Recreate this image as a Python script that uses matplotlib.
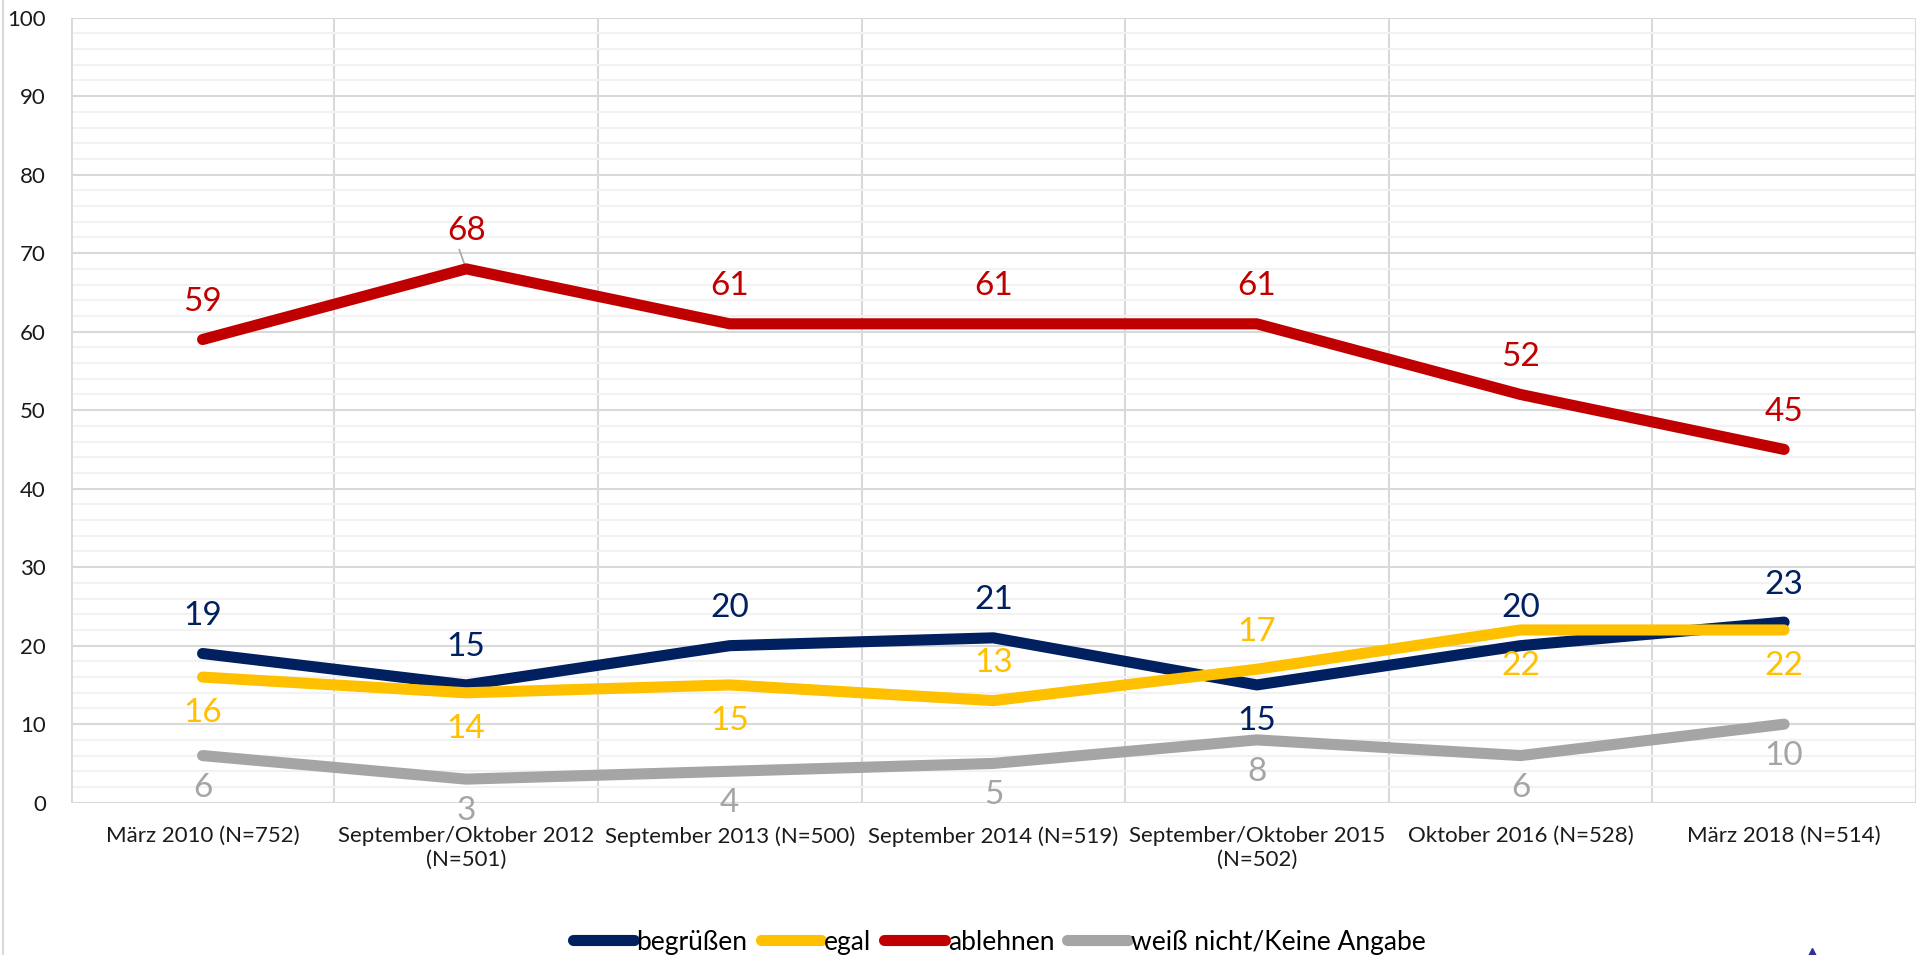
import matplotlib
matplotlib.use('Agg')
import matplotlib.pyplot as plt
from matplotlib.lines import Line2D
from matplotlib.ticker import MultipleLocator
import numpy as np

plt.rcParams['font.family'] = ['Lato', 'DejaVu Sans']

categories = [
    'März 2010 (N=752)',
    'September/Oktober 2012\n(N=501)',
    'September 2013 (N=500)',
    'September 2014 (N=519)',
    'September/Oktober 2015\n(N=502)',
    'Oktober 2016 (N=528)',
    'März 2018 (N=514)',
]
series_names = ['begrüßen', 'egal', 'ablehnen', 'weiß nicht/Keine Angabe']
begruessen = [19, 15, 20, 21, 15, 20, 23]
egal = [16, 14, 15, 13, 17, 22, 22]
ablehnen = [59, 68, 61, 61, 61, 52, 45]
weiss_nicht = [6, 3, 4, 5, 8, 6, 10]

colors = ['#002060', '#FFC000', '#C00000', '#A5A5A5']
# label side per point: 1 above, -1 below
sides = [
    [1, 1, 1, 1, -1, 1, 1],
    [-1, -1, -1, 1, 1, -1, -1],
    [1, 1, 1, 1, 1, 1, 1],
    [-1, -1, -1, -1, -1, -1, -1],
]

fig = plt.figure(figsize=(19.18, 9.55), dpi=100)
ax = fig.add_axes([0.0369, 0.1595, 0.962, 0.822])

x = np.arange(len(categories)) + 0.5
data = [begruessen, egal, ablehnen, weiss_nicht]

for i in range(4):
    ax.plot(x, data[i], color=colors[i], lw=8, solid_capstyle='round',
            solid_joinstyle='round', label=series_names[i], zorder=3 + i)

for i in range(4):
    for j, v in enumerate(data[i]):
        if sides[i][j] > 0:
            off = 27
        else:
            off = -23 if i == 3 else -26
        ax.annotate(str(v), (x[j], v), xytext=(0, off), textcoords='offset points',
                    ha='center', va='center', fontsize=24, color=colors[i],
                    annotation_clip=False, zorder=10)

# leader line for the shifted 68 label
ax.annotate('', (x[1], ablehnen[1]), xytext=(-5, 14), textcoords='offset points',
            arrowprops=dict(arrowstyle='-', color='#a6a6a6', lw=1.2,
                            shrinkA=0, shrinkB=4))

ax.set_xlim(0, len(categories))
ax.set_ylim(0, 100)
ax.set_xticks(x)
ax.set_xticklabels(categories, fontsize=16, color='#1a1a1a', linespacing=1.25)
ax.xaxis.set_minor_locator(MultipleLocator(1))
ax.yaxis.set_major_locator(MultipleLocator(10))
ax.yaxis.set_minor_locator(MultipleLocator(2))
ax.tick_params(axis='y', which='major', labelsize=16, length=0, pad=18, colors='#1a1a1a')
ax.tick_params(axis='x', which='major', length=0, pad=17)
ax.tick_params(which='minor', length=0)
ax.grid(axis='y', which='major', color='#d9d9d9', lw=1.5)
ax.grid(axis='y', which='minor', color='#f2f2f2', lw=1.5)
ax.grid(axis='x', which='minor', color='#d9d9d9', lw=1.5)
ax.grid(axis='x', which='major', visible=False)
for s in ax.spines.values():
    s.set_visible(False)
ax.axhline(0, color='#d9d9d9', lw=2, zorder=2)
ax.axvline(0, color='#d9d9d9', lw=2, zorder=2)
ax.axvline(len(categories), color='#d9d9d9', lw=2, zorder=2)
ax.set_axisbelow(True)

handles, labels = ax.get_legend_handles_labels()
leg = fig.legend(handles, labels, loc='center', bbox_to_anchor=(0.521, 0.0136),
                 ncol=4, frameon=False, fontsize=19, handlelength=2.3,
                 handletextpad=0.1, columnspacing=0.5)
for h in leg.legend_handles:
    h.set_solid_capstyle('round')

# chart border on the left and tiny cut-off shape bottom right
fig.add_artist(Line2D([0.0016, 0.0016], [0, 1], transform=fig.transFigure,
                      color='#d9d9d9', lw=1.5))
fig.add_artist(Line2D([0.9447], [0.002], transform=fig.transFigure, marker='^',
                      color='#2e3192', markersize=7, lw=0))

fig.savefig('out.png', dpi=100)
